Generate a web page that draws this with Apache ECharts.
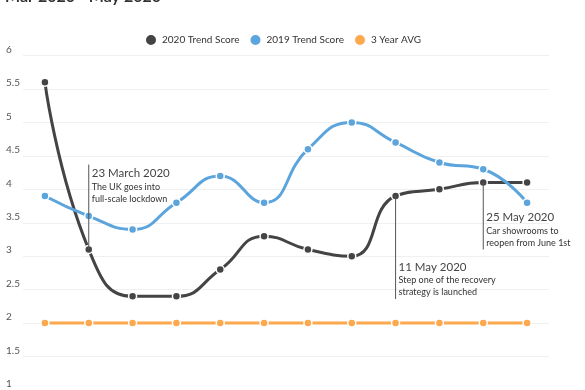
<!DOCTYPE html>
<html><head><meta charset="utf-8">
<script src="https://cdn.jsdelivr.net/npm/echarts@6/dist/echarts.min.js"></script>
<style>html,body{margin:0;padding:0;background:#fff}#c{width:585px;height:390px}</style>
</head><body><div id="c"></div>
<script>
const titleText = 'Mar 2020 - May 2020';
const categories = ['16 Mar','23 Mar','30 Mar','6 Apr','13 Apr','20 Apr','27 Apr','4 May','11 May','18 May','25 May','1 Jun'];
const seriesNames = ['2020 Trend Score','2019 Trend Score','3 Year AVG'];
const trend2020 = [5.6, 3.1, 2.4, 2.4, 2.8, 3.3, 3.1, 3.0, 3.9, 4.0, 4.1, 4.1];
const trend2019 = [3.9, 3.6, 3.4, 3.8, 4.2, 3.8, 4.6, 5.0, 4.7, 4.4, 4.3, 3.8];
const avg3Year  = [2, 2, 2, 2, 2, 2, 2, 2, 2, 2, 2, 2];
const yMin = 1, yMax = 6, yInterval = 0.5;
// annotations: category index, far end value of the connector line, texts
const annIndex = [1, 8, 10];
const annEnd = [4.37, 2.36, 3.1];
const annTitle = ['23 March 2020', '11 May 2020', '25 May 2020'];
const annText = [
  ['The UK goes into', 'full-scale lockdown'],
  ['Step one of the recovery', 'strategy is launched'],
  ['Car showrooms to', 'reopen from June 1st']
];

const colors = ['#444446', '#5ba4dc', '#fca84d'];
const FONT = 'Lato, "Open Sans", sans-serif';
const chart = echarts.init(document.getElementById('c'), null, {renderer: 'canvas'});

function mkSeries(name, data, color, smooth) {
  return {
    name: name, type: 'line', data: data, smooth: smooth,
    symbol: 'circle', symbolSize: 8, showAllSymbol: true,
    lineStyle: {width: 3, color: color},
    itemStyle: {color: color, borderColor: '#fff', borderWidth: 1.5},
    emphasis: {disabled: true}, animation: false
  };
}

chart.setOption({
  animation: false,
  color: colors,
  title: {text: titleText, left: 0, top: -16,
    textStyle: {fontSize: 16, fontWeight: 'bold', color: '#333', fontFamily: FONT}},
  legend: {
    top: 28, left: 139, icon: 'circle', itemWidth: 12, itemHeight: 12, itemGap: 9,
    textStyle: {fontSize: 10, color: '#333', fontFamily: FONT},
    data: seriesNames
  },
  grid: {left: 23, right: 36, top: 55.5, height: 339, containLabel: false},
  xAxis: {
    type: 'category', data: categories, boundaryGap: true,
    axisLine: {show: false}, axisTick: {show: false}, axisLabel: {show: false}
  },
  yAxis: {
    type: 'value', min: yMin, max: yMax, interval: yInterval,
    axisLine: {show: false}, axisTick: {show: false},
    splitLine: {lineStyle: {color: '#f0f0f0', width: 1}},
    axisLabel: {margin: 17, align: 'left', verticalAlign: 'bottom', fontSize: 10, color: '#555', fontFamily: FONT, padding: [0,0,1,0]}
  },
  series: [
    mkSeries(seriesNames[0], trend2020, colors[0], 0.5),
    mkSeries(seriesNames[1], trend2019, colors[1], 0.5),
    mkSeries(seriesNames[2], avg3Year, colors[2], false)
  ]
});

const graphics = [];
annIndex.forEach(function (idx, i) {
  const start = chart.convertToPixel({xAxisIndex: 0, yAxisIndex: 0}, [idx, trend2020[idx]]);
  const end = chart.convertToPixel({xAxisIndex: 0, yAxisIndex: 0}, [idx, annEnd[i]]);
  graphics.push({type: 'line', silent: true, z: 10,
    shape: {x1: start[0], y1: start[1], x2: end[0], y2: end[1]},
    style: {stroke: '#555', lineWidth: 1}});
  const up = end[1] < start[1];
  const titleY = up ? end[1] + 9 : end[1] - 32;
  const tx = start[0] + 3;
  graphics.push({type: 'text', silent: true, z: 10, x: tx, y: titleY,
    style: {text: annTitle[i], fill: '#444', font: '11.5px ' + FONT, verticalAlign: 'middle', align: 'left'}});
  annText[i].forEach(function (t, k) {
    graphics.push({type: 'text', silent: true, z: 10, x: tx, y: titleY + 13.5 + 12 * k,
      style: {text: t, fill: '#333', font: '9px ' + FONT, verticalAlign: 'middle', align: 'left'}});
  });
});
chart.setOption({graphic: graphics});
</script>
</body></html>
